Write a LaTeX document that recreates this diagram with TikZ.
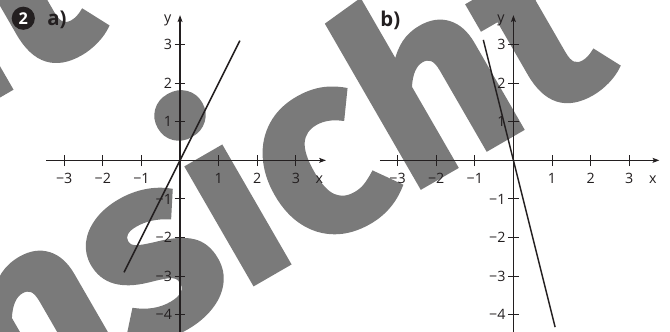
\documentclass[tikz,border=0pt]{standalone}
\usepackage{fontspec}
\setmainfont{Open Sans}
\newfontfamily\wmfont[BoldFeatures={FakeBold=1.5}]{Fira Sans}
\usetikzlibrary{arrows.meta}
\definecolor{wmgray}{RGB}{122,122,122}
\definecolor{inkgray}{RGB}{35,31,32}

\tikzset{
  axis/.style={line width=0.8pt, inkgray, -{Stealth[length=5pt,width=3.6pt,inset=1pt]}},
  tickmark/.style={line width=0.8pt, inkgray},
  ticklabel/.style={inner sep=0pt, text=inkgray, font=\fontsize{10.5}{12}\selectfont},
  graphline/.style={line width=1.1pt, inkgray},
  partlabel/.style={inner sep=0pt, text=inkgray, font=\fontsize{15}{17}\selectfont\bfseries},
  watermark/.style={inner sep=0pt, text=wmgray, font=\wmfont\bfseries\fontsize{187}{187}\selectfont},
}

\newcommand{\AxisCross}[1]{%
  \coordinate (#1xl) at (-3.46,0);
  \coordinate (#1xr) at (3.78,0);
  \coordinate (#1yb) at (0,-4.5);
  \coordinate (#1yt) at (0,3.76);
  \draw[axis] (#1xl) -- (#1xr);
  \draw[axis] (#1yb) -- (#1yt);
  \foreach \k/\t in {-3/−3,-2/−2,-1/−1,1/1,2/2,3/3} {
    \draw[tickmark] (\k,-0.15) -- (\k,0.15);
    \node[ticklabel, anchor=base] (#1x\k) at (\k,-0.6) {\t};
  }
  \foreach \k/\t in {-4/−4,-3/−3,-2/−2,-1/−1,1/1,2/2,3/3} {
    \draw[tickmark] (-0.14,\k) -- (0.14,\k);
    \node[ticklabel, anchor=east] (#1y\k) at (-0.2,\k) {\t};
  }
  \node[ticklabel, anchor=base] (#1xname) at (3.61,-0.6) {x};
  \node[ticklabel, anchor=base] (#1yname) at (-0.32,3.56) {y};
}

\begin{document}
\begin{tikzpicture}
  \useasboundingbox (-4.663,-4.422) rectangle (12.69,4.153);
  \clip (-4.663,-4.422) rectangle (12.69,4.153);

  % Wasserzeichen
  \node[watermark, rotate=30, anchor=base] (wm) at (1.78,-3.28) {Ansicht};
  \node[watermark, rotate=30, anchor=base] (wmtop) at (-11.46,-2.24) {Ansicht};

  % Aufgabennummer
  \node[circle, fill=inkgray, minimum size=0.6cm, inner sep=0pt, text=white,
        font=\fontsize{12}{14}\selectfont\bfseries] (nr) at (-4.06,3.68) {2};

  % a)
  \node[partlabel] (pa) at (-3.19,3.63) {a)};
  \AxisCross{a}
  \coordinate (ga1) at (-1.45,-2.9);
  \coordinate (ga2) at (1.55,3.1);
  \draw[graphline] (ga1) -- (ga2);   % y = 2x

  % b)
  \begin{scope}[shift={(8.635,0)}]
    \node[partlabel] (pb) at (-3.19,3.63) {b)};
    \AxisCross{b}
    \coordinate (gb1) at (-0.78,3.12);
    \coordinate (gb2) at (1.08,-4.32);
    \draw[graphline] (gb1) -- (gb2); % y = -4x
  \end{scope}
\end{tikzpicture}
\end{document}
